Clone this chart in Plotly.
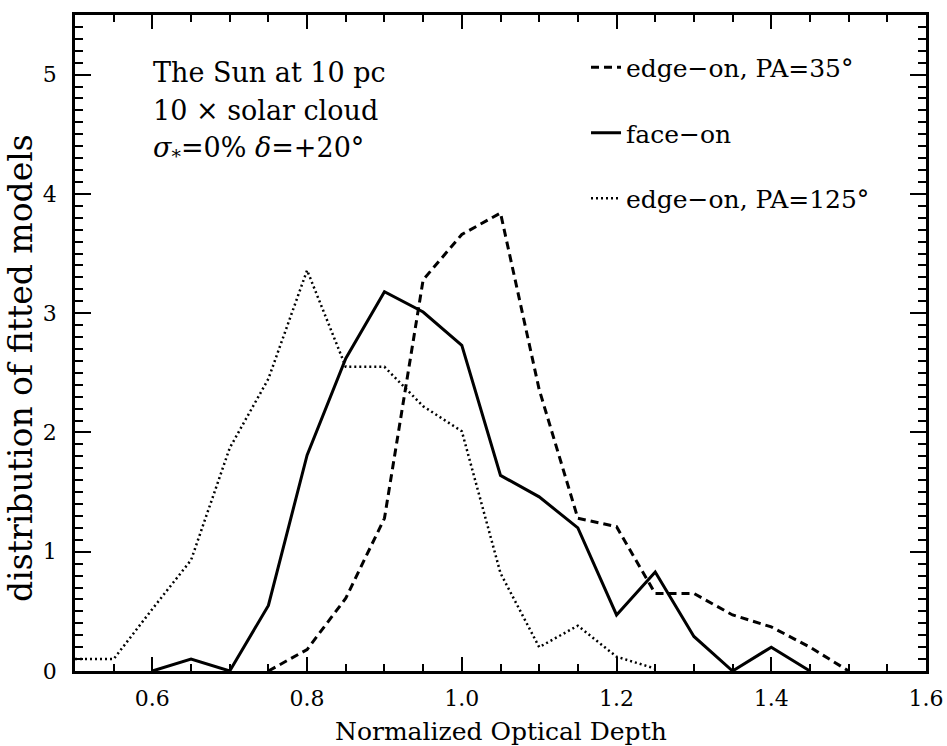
import plotly.graph_objects as go

# Normalized optical depth bins and model distributions for the three orientations
x_edge35 = [0.75, 0.80, 0.85, 0.90, 0.95, 1.00, 1.05, 1.10, 1.15, 1.20, 1.25, 1.30, 1.35, 1.40, 1.45, 1.50]
y_edge35 = [0.00, 0.18, 0.61, 1.28, 3.28, 3.66, 3.84, 2.36, 1.28, 1.21, 0.65, 0.65, 0.47, 0.37, 0.20, 0.00]

x_face = [0.60, 0.65, 0.70, 0.75, 0.80, 0.85, 0.90, 0.95, 1.00, 1.05, 1.10, 1.15, 1.20, 1.25, 1.30, 1.35, 1.40, 1.45]
y_face = [0.00, 0.10, 0.00, 0.55, 1.81, 2.62, 3.18, 3.01, 2.73, 1.64, 1.46, 1.20, 0.47, 0.83, 0.29, 0.00, 0.20, 0.00]

x_edge125 = [0.50, 0.55, 0.60, 0.65, 0.70, 0.75, 0.80, 0.85, 0.90, 0.95, 1.00, 1.05, 1.10, 1.15, 1.20, 1.25]
y_edge125 = [0.10, 0.10, 0.52, 0.93, 1.87, 2.45, 3.36, 2.55, 2.55, 2.22, 2.01, 0.82, 0.20, 0.38, 0.12, 0.02]

x_ticks = [0.6, 0.8, 1.0, 1.2, 1.4, 1.6]
y_ticks = [0, 1, 2, 3, 4, 5]

label_edge35 = "edge\u2212on, PA=35\u00b0"
label_face = "face\u2212on"
label_edge125 = "edge\u2212on, PA=125\u00b0"

x_title = "Normalized Optical Depth"
y_title = "distribution of fitted models"

info_lines = [
    "The Sun at 10 pc",
    "10 \u00d7 solar cloud",
    "<i>\u03c3</i><sub>*</sub>=0% <i>\u03b4</i>=+20\u00b0",
]
info_y = [0.913, 0.855, 0.795]

SERIF = "DejaVu Serif, serif"

fig = go.Figure()
fig.add_trace(go.Scatter(x=x_edge35, y=y_edge35, mode="lines", name=label_edge35,
                         legendgroup="a",
                         line=dict(color="black", width=3, dash="8px,5px")))
fig.add_trace(go.Scatter(x=x_face, y=y_face, mode="lines", name=label_face,
                         legendgroup="b",
                         line=dict(color="black", width=3)))
fig.add_trace(go.Scatter(x=x_edge125, y=y_edge125, mode="lines", name=label_edge125,
                         legendgroup="c",
                         line=dict(color="black", width=2.5, dash="2px,3px")))

axis_common = dict(
    showline=True, linecolor="black", linewidth=2.5, mirror="allticks",
    ticks="inside", tickcolor="black", tickwidth=2,
    showgrid=False, zeroline=False, automargin=False,
    tickfont=dict(family=SERIF, size=22, color="black"),
)

fig.update_xaxes(
    **axis_common,
    range=[0.5, 1.6],
    tickmode="array", tickvals=x_ticks, ticktext=[f"{v:.1f}" for v in x_ticks],
    ticklen=14, ticklabelstandoff=6,
    minor=dict(tickmode="linear", tick0=0.5, dtick=0.05, ticks="inside",
               ticklen=7, tickwidth=2, tickcolor="black"),
)
fig.update_yaxes(
    **axis_common,
    range=[0, 5.5],
    tickmode="array", tickvals=y_ticks, ticktext=[str(v) for v in y_ticks],
    ticklen=16, ticklabelstandoff=11,
    minor=dict(tickmode="linear", tick0=0, dtick=0.1, ticks="inside",
               ticklen=8, tickwidth=2, tickcolor="black"),
)

# horizontal axis title below the tick labels
fig.add_annotation(text=x_title, xref="paper", yref="paper",
                   x=0.5, y=-0.092, xanchor="center", yanchor="middle",
                   showarrow=False,
                   font=dict(family=SERIF, size=25, color="black"))

# vertical axis title, placed a little below the plot's mid-height
fig.add_annotation(text=y_title, xref="paper", yref="paper",
                   x=-0.0635, y=0.462, xanchor="center", yanchor="middle",
                   textangle=-90, showarrow=False,
                   font=dict(family=SERIF, size=33, color="black"))

for line, yy in zip(info_lines, info_y):
    fig.add_annotation(text=line, xref="paper", yref="paper",
                       x=0.089, y=yy, xanchor="left", yanchor="middle",
                       showarrow=False,
                       font=dict(family=SERIF, size=27, color="black"))

fig.update_layout(
    width=947, height=746,
    margin=dict(l=75, r=21, t=15, b=75),
    paper_bgcolor="white", plot_bgcolor="white",
    showlegend=True,
    legend=dict(x=0.6005, y=0.955, xanchor="left", yanchor="top",
                bgcolor="rgba(0,0,0,0)", tracegroupgap=30,
                font=dict(family=SERIF, size=25, color="black")),
)

fig.write_html("out.html")
